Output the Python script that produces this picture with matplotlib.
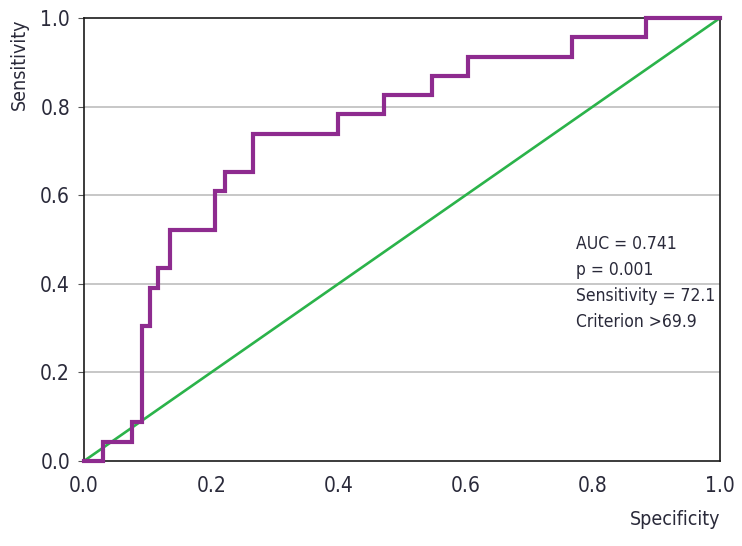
import numpy as np
import matplotlib.pyplot as plt

# --- Data ---
fpr = [0.0, 0.030, 0.030, 0.076, 0.076, 0.091, 0.091, 0.104, 0.104, 0.116, 0.116,
       0.135, 0.135, 0.206, 0.206, 0.222, 0.222, 0.266, 0.266, 0.400, 0.400,
       0.471, 0.471, 0.547, 0.547, 0.604, 0.604, 0.767, 0.767, 0.884, 0.884, 1.0]
tpr = [0.0, 0.0, 0.043, 0.043, 0.087, 0.087, 0.304, 0.304, 0.391, 0.391, 0.435,
       0.435, 0.522, 0.522, 0.609, 0.609, 0.652, 0.652, 0.739, 0.739, 0.783,
       0.783, 0.826, 0.826, 0.870, 0.870, 0.913, 0.913, 0.957, 0.957, 1.0, 1.0]
ticks = [0.0, 0.2, 0.4, 0.6, 0.8, 1.0]
stats = ["AUC = 0.741", "p = 0.001", "Sensitivity = 72.1", "Criterion >69.9"]

plt.rcParams['font.family'] = ['DejaVu Sans']
plt.rcParams['font.stretch'] = 'condensed'

fig = plt.figure(figsize=(7.42, 5.46), dpi=100)
ax = fig.add_axes([84 / 742, 1 - 461 / 546, 636 / 742, 443 / 546])

# grid lines
for t in ticks[1:-1]:
    ax.axhline(t, color='#bdbdbd', lw=1.2, zorder=1)

# reference diagonal and ROC curve
ax.plot([0, 1], [0, 1], color='#2bb34a', lw=1.9, zorder=2)
ax.plot(fpr, tpr, color='#8e2b8f', lw=3.0, solid_joinstyle='miter', zorder=3, clip_on=False)

ax.set_xlim(0, 1)
ax.set_ylim(0, 1)
ax.set_xticks(ticks)
ax.set_yticks(ticks)
ax.set_xticklabels([f'{t:.1f}' for t in ticks])
ax.set_yticklabels([f'{t:.1f}' for t in ticks])
ax.tick_params(axis='x', length=0, pad=11, labelsize=15, labelcolor='#2a2a3a')
ax.tick_params(axis='y', length=4, width=0.8, color='#555555', pad=6,
               labelsize=15, labelcolor='#2a2a3a')

for s in ax.spines.values():
    s.set_color('#1a1a1a')
    s.set_linewidth(1.2)

ax.set_xlabel('Specificity', fontsize=14, color='#2a2a3a', loc='right', labelpad=10)
ax.set_ylabel('Sensitivity', fontsize=14, color='#2a2a3a', loc='top', labelpad=8)

for i, s in enumerate(stats):
    ax.text(0.773, 0.49 - i * 0.059, s, fontsize=12.5, color='#2a2a3a', va='center')

fig.savefig('out.png', dpi=100)
